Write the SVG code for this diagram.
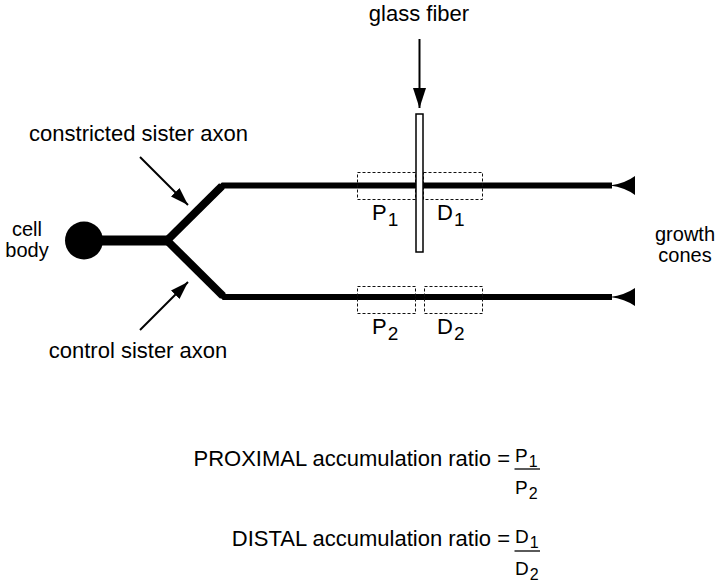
<svg xmlns="http://www.w3.org/2000/svg" width="720" height="582" viewBox="0 0 720 582">
<defs>
<style>
text{font-family:"Liberation Sans",Arial,Helvetica,sans-serif;fill:#000}
.t{font-size:22px}
.s{font-size:20px}
.m{text-anchor:middle}
.lab{font-size:22px}
.sub{font-size:19px}
.fr{font-size:19px}
.fsub{font-size:16px}
.axon{fill:none;stroke:#000;stroke-linejoin:miter}
.box{fill:none;stroke:#111;stroke-width:1;stroke-dasharray:3,2}
.arr{stroke:#000;stroke-width:2;fill:none;marker-end:url(#ah)}
.bar{stroke:#000;stroke-width:1.3}
</style>
<marker id="ah" viewBox="0 0 18 12" refX="18" refY="6" markerWidth="18" markerHeight="12" markerUnits="userSpaceOnUse" orient="auto">
<path d="M0,0 L18,6 L0,12 Z" fill="#000"/>
</marker>
<marker id="ahb" viewBox="0 0 20 13" refX="20" refY="6.5" markerWidth="20" markerHeight="13" markerUnits="userSpaceOnUse" orient="auto">
<path d="M0,0 L20,6.5 L0,13 Z" fill="#000"/>
</marker>
</defs>
<rect width="720" height="582" fill="#fff"/>

<g id="cell-body">
<circle cx="84" cy="240.5" r="19" fill="#000"/>
<line x1="95" y1="240.5" x2="169" y2="240.5" stroke="#000" stroke-width="10"/>
<text class="s m" x="27" y="236">cell</text>
<text class="s m" x="27" y="257">body</text>
</g>

<g id="constricted-axon">
<polyline class="axon" stroke-width="6" points="167,240.5 223,185.5 612,185.5"/>
<line x1="167" y1="240.5" x2="222" y2="186" stroke="#000" stroke-width="8"/>
<path d="M610,185.5 Q625,183.5 635,176 L635,195 Q625,187.5 610,185.5 Z" fill="#000"/>
</g>

<g id="control-axon">
<polyline class="axon" stroke-width="6" points="167,240.5 224,297 612,297"/>
<line x1="167" y1="240.5" x2="223" y2="296" stroke="#000" stroke-width="8"/>
<path d="M610,297 Q625,295 635,288 L635,306 Q625,299 610,297 Z" fill="#000"/>
</g>

<g id="regions">
<rect class="box" x="357.5" y="172.5" width="58" height="27"/>
<rect class="box" x="423.5" y="172.5" width="59" height="27"/>
<rect class="box" x="357.5" y="286.5" width="58" height="27"/>
<rect class="box" x="424.5" y="286.5" width="58" height="27"/>
<text class="lab" x="372" y="220">P<tspan class="sub" dx="1" dy="6">1</tspan></text>
<text class="lab" x="437" y="220">D<tspan class="sub" dx="1" dy="6">1</tspan></text>
<text class="lab" x="372" y="334">P<tspan class="sub" dx="1" dy="6">2</tspan></text>
<text class="lab" x="437" y="334">D<tspan class="sub" dx="1" dy="6">2</tspan></text>
</g>

<g id="glass-fiber">
<rect x="416" y="114" width="7" height="138" fill="#fff" stroke="#000" stroke-width="1.5"/>
<text class="t m" x="419" y="21">glass fiber</text>
</g>

<g id="growth-cones">
<text class="s m" x="685" y="241">growth</text>
<text class="s m" x="685" y="262">cones</text>
</g>

<g id="axon-labels">
<text class="t m" x="138.5" y="141">constricted sister axon</text>
<text class="t m" x="138" y="358">control sister axon</text>
</g>

<g id="connectors">
<line class="arr" x1="419.5" y1="39" x2="419.5" y2="108" style="marker-end:url(#ahb)"/>
<line class="arr" x1="140" y1="157" x2="188" y2="205"/>
<line class="arr" x1="140" y1="330" x2="188" y2="282"/>
</g>

<g id="formulas">
<text class="t" x="510" y="466" text-anchor="end">PROXIMAL accumulation ratio =</text>
<text class="fr" x="515" y="462">P<tspan class="fsub" dx="1" dy="5">1</tspan></text>
<line class="bar" x1="514.5" y1="469" x2="540" y2="469"/>
<text class="fr" x="515" y="494">P<tspan class="fsub" dx="1" dy="5">2</tspan></text>
<text class="t" x="510" y="546" text-anchor="end">DISTAL accumulation ratio =</text>
<text class="fr" x="515" y="543">D<tspan class="fsub" dx="1" dy="5">1</tspan></text>
<line class="bar" x1="514.5" y1="551" x2="540" y2="551"/>
<text class="fr" x="515" y="575">D<tspan class="fsub" dx="1" dy="5">2</tspan></text>
</g>
</svg>
